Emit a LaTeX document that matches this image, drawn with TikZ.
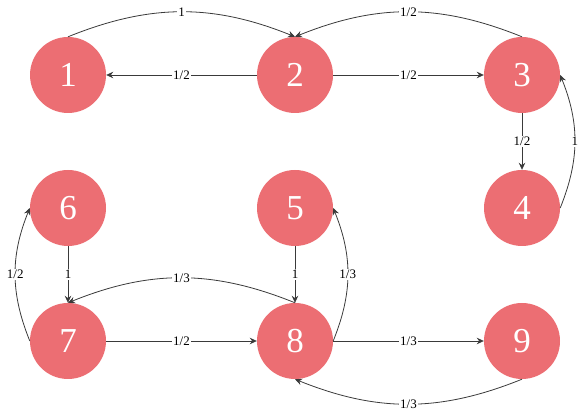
\documentclass[tikz,border=0pt]{standalone}
\usepackage{fontspec}
\setmainfont{Liberation Serif}
\usetikzlibrary{arrows.meta}
\definecolor{nodered}{HTML}{EC6E73}
\definecolor{linkgray}{HTML}{3A3A3A}
\tikzstyle{state}=[circle, fill=nodered, text=white, minimum size=76pt, inner sep=0pt, font=\fontsize{35}{35}\selectfont]
\tikzstyle{prob}=[fill=white, inner sep=1.5pt, font=\fontsize{13}{13}\selectfont]
\tikzstyle{link}=[draw=linkgray, line width=0.8pt, -{Stealth[length=7pt, width=6.5pt]}]

\begin{document}
\begin{tikzpicture}[x=1pt, y=1pt]
      \useasboundingbox (0, 0) rectangle (583, 414);
      \node[state] (n1) at (68, 339) {1};
      \node[state] (n2) at (295, 339) {2};
      \node[state] (n3) at (522, 339) {3};
      \node[state] (n6) at (68, 206) {6};
      \node[state] (n5) at (295, 206) {5};
      \node[state] (n4) at (522, 206) {4};
      \node[state] (n7) at (68, 73) {7};
      \node[state] (n8) at (295, 73) {8};
      \node[state] (n9) at (522, 73) {9};
      % top row
      \draw[link] (n1.north) to[bend left=22] node[prob] {1} (n2.north);
      \draw[link] (n3.north) to[bend right=22] node[prob] {1/2} (n2.north);
      \draw[link] (n2) to node[prob] {1/2} (n1);
      \draw[link] (n2) to node[prob] {1/2} (n3);
      \draw[link] (n3) to node[prob] {1/2} (n4);
      \draw[link] (n4.east) to[bend right=22] node[prob] {1} (n3.east);
      % middle and bottom rows
      \draw[link] (n6) to node[prob] {1} (n7);
      \draw[link] (n7.west) to[bend left=22] node[prob] {1/2} (n6.west);
      \draw[link] (n5) to node[prob] {1} (n8);
      \draw[link] (n8.east) to[bend right=22] node[prob] {1/3} (n5.east);
      \draw[link] (n8.north) to[bend right=22] node[prob] {1/3} (n7.north);
      \draw[link] (n7) to node[prob] {1/2} (n8);
      \draw[link] (n8) to node[prob] {1/3} (n9);
      \draw[link] (n9.south) to[bend left=22] node[prob] {1/3} (n8.south);
    \end{tikzpicture}
\end{document}
